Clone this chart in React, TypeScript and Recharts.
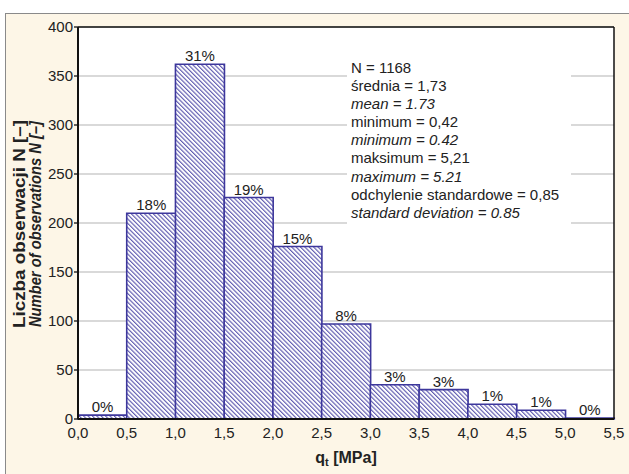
import React from "react";
import {
  Bar,
  BarChart,
  CartesianGrid,
  LabelList,
  XAxis,
  YAxis,
} from "recharts";

const binStart = [0, 0.5, 1, 1.5, 2, 2.5, 3, 3.5, 4, 4.5, 5];
const counts = [4, 210, 362, 226, 176, 97, 35, 30, 15, 9, 1];
const percents = ["0%", "18%", "31%", "19%", "15%", "8%", "3%", "3%", "1%", "1%", "0%"];
const xTicks = [0, 0.5, 1, 1.5, 2, 2.5, 3, 3.5, 4, 4.5, 5, 5.5];
const yTicks = [0, 50, 100, 150, 200, 250, 300, 350, 400];
const stats = [
  { text: "N = 1168", italic: false },
  { text: "średnia = 1,73", italic: false },
  { text: "mean = 1.73", italic: true },
  { text: "minimum = 0,42", italic: false },
  { text: "minimum = 0.42", italic: true },
  { text: "maksimum = 5,21", italic: false },
  { text: "maximum = 5.21", italic: true },
  { text: "odchylenie standardowe = 0,85", italic: false },
  { text: "standard deviation = 0.85", italic: true },
];

const data = binStart.map((x, i) => ({ bin: `b${i}`, x0: x, n: counts[i], pct: percents[i] }));

const font = "'Liberation Sans', Arial, sans-serif";
const tickStyle = { fontSize: 15, fill: "#222", fontFamily: font };
const fmt = (v: number) => v.toFixed(1).replace(".", ",");

export default function App() {
  return (
    <div style={{ position: "absolute", left: 0, top: 0, width: 629, height: 474, background: "#fff", fontFamily: font }}>
      <div
        style={{
          position: "absolute",
          left: 5,
          top: 13,
          width: 624,
          height: 461,
          background: "#fdf6e7",
          borderTop: "1.5px solid #8a8a8a",
          borderLeft: "1.5px solid #8a8a8a",
          boxSizing: "border-box",
        }}
      />
      <div style={{ position: "absolute", left: 0, top: 0 }}>
        <BarChart
          width={629}
          height={474}
          data={data}
          barCategoryGap={0}
          margin={{ top: 27, right: 15, left: 0, bottom: 25 }}
        >
          <defs>
            <pattern id="hatch" patternUnits="userSpaceOnUse" width={3.1} height={3.1} patternTransform="rotate(-45)">
              <rect width={3.1} height={3.1} fill="#fff" />
              <line x1={0.6} y1={0} x2={0.6} y2={3.1} stroke="#4b45a6" strokeWidth={1} />
            </pattern>
          </defs>
          <CartesianGrid xAxisId="cat" yAxisId="left" vertical={false} stroke="#b4b4b4" strokeWidth={1.2} fill="#fff" />
          <XAxis xAxisId="cat" dataKey="bin" hide height={0} padding={{ left: 0, right: 0 }} />
          <XAxis
            xAxisId="num"
            dataKey="x0"
            type="number"
            domain={[0, 5.5]}
            allowDataOverflow
            ticks={xTicks}
            tickFormatter={fmt}
            tick={tickStyle}
            tickLine={false}
            tickSize={6}
            axisLine={{ stroke: "#111", strokeWidth: 2 }}
            height={30}
            interval={0}
          />
          <XAxis
            xAxisId="top"
            dataKey="x0"
            orientation="top"
            type="number"
            domain={[0, 5.5]}
            allowDataOverflow
            ticks={xTicks.slice(1, 11)}
            mirror
            tick={false}
            tickSize={6}
            tickLine={{ stroke: "#111", strokeWidth: 1.3 }}
            axisLine={{ stroke: "#111", strokeWidth: 1.5 }}
          />
          <YAxis
            yAxisId="left"
            domain={[0, 400]}
            ticks={yTicks}
            tick={tickStyle}
            tickSize={4}
            tickMargin={1}
            tickLine={{ stroke: "#111", strokeWidth: 1.3 }}
            axisLine={{ stroke: "#111", strokeWidth: 2 }}
            width={78}
            interval={0}
          />
          <YAxis
            yAxisId="right"
            orientation="right"
            domain={[0, 400]}
            ticks={yTicks.slice(1, 8)}
            mirror
            tick={false}
            tickSize={6}
            tickLine={{ stroke: "#111", strokeWidth: 1.3 }}
            axisLine={{ stroke: "#111", strokeWidth: 1.5 }}
          />
          <Bar
            xAxisId="cat"
            yAxisId="left"
            dataKey="n"
            fill="url(#hatch)"
            stroke="#3d379c"
            strokeWidth={1.6}
            isAnimationActive={false}
          >
            <LabelList dataKey="pct" position="top" offset={3} style={{ fontSize: 15, fill: "#222", fontFamily: font }} />
          </Bar>
        </BarChart>
      </div>
      <div
        style={{
          position: "absolute",
          left: 347,
          top: 58,
          width: 224,
          height: 168,
          background: "#fff",
          paddingTop: 1,
          paddingLeft: 4,
          boxSizing: "border-box",
          fontSize: 15,
          lineHeight: "18.1px",
          color: "#222",
        }}
      >
        {stats.map((s, i) => (
          <div key={i} style={{ fontStyle: s.italic ? "italic" : "normal", whiteSpace: "nowrap" }}>
            {s.text}
          </div>
        ))}
      </div>
      <svg width={629} height={474} style={{ position: "absolute", left: 0, top: 0, pointerEvents: "none" }}>
        <g transform="translate(25 224) rotate(-90)">
          <text textAnchor="middle" fontSize={17} fontWeight="bold" fill="#222" fontFamily={font} textLength={208} lengthAdjust="spacingAndGlyphs">
            Liczba obserwacji N [–]
          </text>
        </g>
        <g transform="translate(41 224) rotate(-90)">
          <text textAnchor="middle" fontSize={17} fontWeight="bold" fontStyle="italic" fill="#222" fontFamily={font} textLength={206} lengthAdjust="spacingAndGlyphs">
            Number of observations N [–]
          </text>
        </g>
        <text x={346} y={463} textAnchor="middle" fontSize={16} fontWeight="bold" fill="#222" fontFamily={font}>
          q<tspan fontSize={11} dy={3}>t</tspan>
          <tspan dy={-3}> [MPa]</tspan>
        </text>
      </svg>
    </div>
  );
}
